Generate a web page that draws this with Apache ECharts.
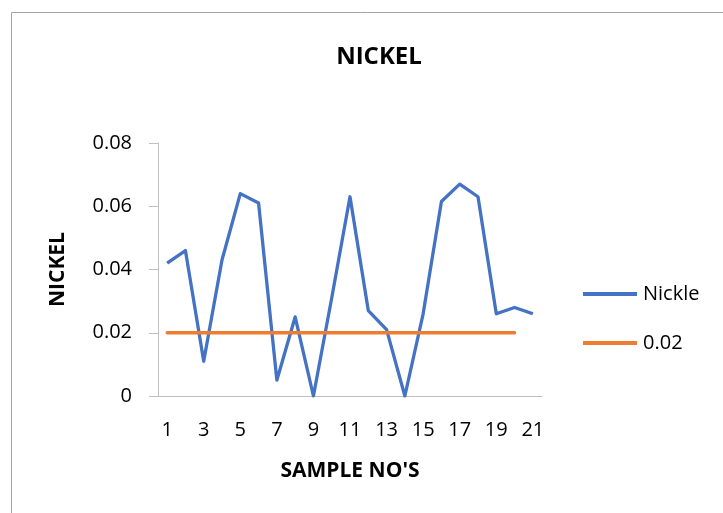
<!DOCTYPE html>
<html>
<head>
<meta charset="utf-8">
<script src="https://cdn.jsdelivr.net/npm/echarts@6/dist/echarts.min.js"></script>
<style>
  html, body { margin: 0; padding: 0; background: #fff; }
  #chart { width: 723px; height: 513px; }
</style>
</head>
<body>
<div id="chart"></div>
<script>
// Sample numbers along the x axis
const samples = ['1','2','3','4','5','6','7','8','9','10','11','12','13','14','15','16','17','18','19','20','21'];
// Measured nickel concentration per sample
const nickle = [0.042, 0.046, 0.011, 0.043, 0.064, 0.061, 0.005, 0.025, 0, 0.031, 0.063,
                0.027, 0.021, 0, 0.026, 0.0615, 0.067, 0.063, 0.026, 0.028, 0.026];
// Permissible limit line (drawn over samples 1–20)
const limit = [0.02, 0.02, 0.02, 0.02, 0.02, 0.02, 0.02, 0.02, 0.02, 0.02,
               0.02, 0.02, 0.02, 0.02, 0.02, 0.02, 0.02, 0.02, 0.02, 0.02];

const FONT = '"Open Sans", Lato, sans-serif';
const chart = echarts.init(document.getElementById('chart'), null, { renderer: 'canvas' });

chart.setOption({
  backgroundColor: '#ffffff',
  animation: false,
  title: {
    text: 'NICKEL',
    left: 374, top: 40,
    textAlign: 'center',
    textStyle: { fontFamily: FONT, fontWeight: 'bold', fontSize: 24, color: '#000' }
  },
  graphic: [{
    type: 'rect',
    shape: { x: 11.5, y: 12.5, width: 760, height: 560 },
    style: { fill: 'none', stroke: '#a6a6a6', lineWidth: 1 },
    silent: true
  }],
  legend: {
    orient: 'vertical',
    left: 583, top: 284,
    padding: 0,
    itemWidth: 54, itemHeight: 4, itemGap: 29,
    icon: 'rect',
    textStyle: { fontFamily: FONT, fontSize: 20, color: '#000', padding: [0, 0, 0, 1] },
    data: ['Nickle', '0.02']
  },
  grid: { left: 158, right: 181, top: 143, bottom: 117, containLabel: false },
  xAxis: {
    type: 'category',
    data: samples,
    boundaryGap: true,
    name: "SAMPLE NO'S",
    nameLocation: 'middle',
    nameGap: 65,
    nameTextStyle: { fontFamily: FONT, fontWeight: 'bold', fontSize: 21, color: '#000' },
    axisLine: { lineStyle: { color: '#bfbfbf', width: 1 } },
    axisTick: { show: false },
    axisLabel: { interval: 1, margin: 24, fontFamily: FONT, fontSize: 20, color: '#000' }
  },
  yAxis: {
    type: 'value',
    min: 0, max: 0.08, interval: 0.02,
    name: 'NICKEL',
    nameLocation: 'middle',
    nameGap: 89,
    nameTextStyle: { fontFamily: FONT, fontWeight: 'bold', fontSize: 21, color: '#000' },
    axisLine: { show: true, lineStyle: { color: '#bfbfbf', width: 1 } },
    axisTick: { show: true, length: 9, lineStyle: { color: '#bfbfbf' } },
    splitLine: { show: false },
    axisLabel: { margin: 26, fontFamily: FONT, fontSize: 20, color: '#000' }
  },
  series: [
    {
      name: 'Nickle', type: 'line', data: nickle,
      symbol: 'none', color: '#4472C4',
      lineStyle: { width: 3.3, color: '#4472C4', join: 'round' }
    },
    {
      name: '0.02', type: 'line', data: limit,
      symbol: 'none', color: '#ED7D31',
      lineStyle: { width: 3.3, color: '#ED7D31', cap: 'round' }
    }
  ]
});
</script>
</body>
</html>
